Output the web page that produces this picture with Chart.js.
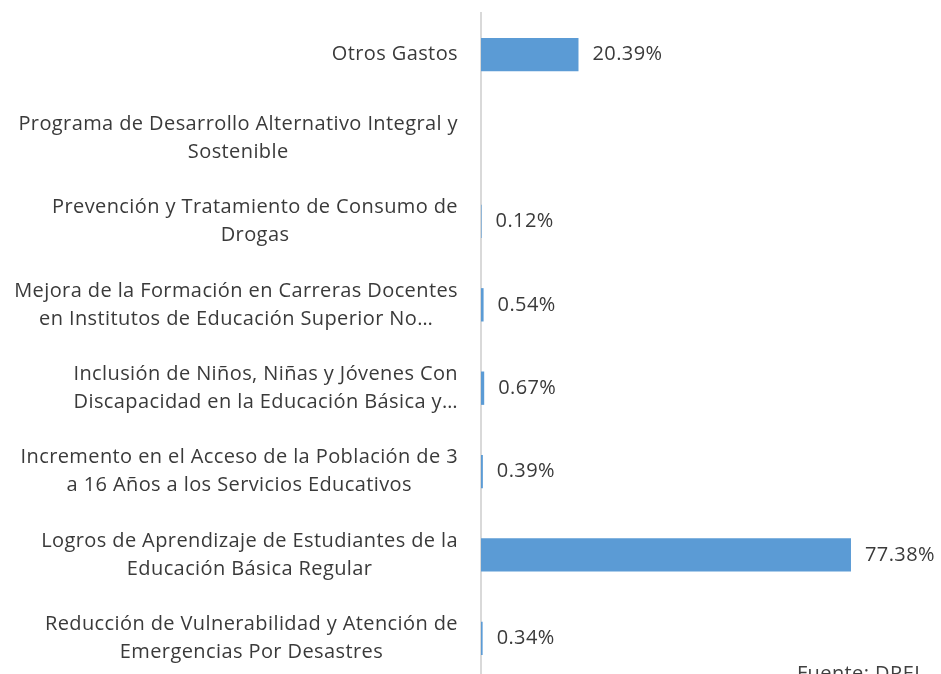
<!DOCTYPE html>
<html>
<head>
<meta charset="utf-8">
<script src="https://cdn.jsdelivr.net/npm/chart.js@4.4.1/dist/chart.umd.min.js"></script>
<style>
    html, body { margin: 0; padding: 0; background: #fff; overflow: hidden; }
    #wrap { position: relative; width: 941px; height: 690px; }
    #source { position: absolute; right: 16px; top: 659px; font: 20px "Open Sans", sans-serif; letter-spacing: 0.4px; color: #404040; }
</style>
</head>
<body>
<div id="wrap">
    <canvas id="programs"></canvas>
    <div id="source">Fuente: DREL</div>
</div>
<script>
const categories = [
    ['Otros Gastos'],
    ['Programa de Desarrollo Alternativo Integral y', 'Sostenible'],
    ['Prevención y Tratamiento de Consumo de', 'Drogas'],
    ['Mejora de la Formación en Carreras Docentes', 'en Institutos de Educación Superior No…'],
    ['Inclusión de Niños, Niñas y Jóvenes Con', 'Discapacidad en la Educación Básica y…'],
    ['Incremento en el Acceso de la Población de 3', 'a 16 Años a los Servicios Educativos'],
    ['Logros de Aprendizaje de Estudiantes de la', 'Educación Básica Regular'],
    ['Reducción de Vulnerabilidad y Atención de', 'Emergencias Por Desastres']
];
const shares = [20.39, null, 0.12, 0.54, 0.67, 0.39, 77.38, 0.34];

const textColor = '#3a3a3a';
const labelFont = '20px "Open Sans", sans-serif';
const spacing = '0.4px';

// Excel-style category labels: each block right aligned, its lines centred
const categoryLabels = {
    id: 'categoryLabels',
    afterDraw(chart) {
        const ctx = chart.ctx;
        const yScale = chart.scales.y;
        const rightEdge = chart.chartArea.left - 23;
        const lineHeight = 28;
        ctx.save();
        ctx.font = labelFont;
        ctx.letterSpacing = spacing;
        ctx.fillStyle = textColor;
        ctx.textBaseline = 'middle';
        ctx.textAlign = 'center';
        categories.forEach((lines, i) => {
            const widest = Math.max(...lines.map(l => ctx.measureText(l).width));
            const cx = rightEdge - widest / 2;
            const cy = yScale.getPixelForTick(i);
            const top = cy - (lines.length - 1) * lineHeight / 2;
            lines.forEach((line, j) => ctx.fillText(line, cx, top + j * lineHeight));
        });
        ctx.restore();
    }
};

const valueLabels = {
    id: 'valueLabels',
    afterDatasetsDraw(chart) {
        const ctx = chart.ctx;
        const meta = chart.getDatasetMeta(0);
        ctx.save();
        ctx.font = labelFont;
        ctx.letterSpacing = spacing;
        ctx.fillStyle = textColor;
        ctx.textBaseline = 'middle';
        ctx.textAlign = 'left';
        meta.data.forEach((bar, i) => {
            if (shares[i] === null) return;
            ctx.fillText(shares[i].toFixed(2) + '%', bar.x + 14, bar.y);
        });
        ctx.restore();
    }
};

new Chart(document.getElementById('programs').getContext('2d'), {
    type: 'bar',
    data: {
        labels: categories.map(c => c.join(' ')),
        datasets: [{
            data: shares,
            backgroundColor: '#5B9BD5',
            borderWidth: 0,
            categoryPercentage: 0.4,
            barPercentage: 1
        }]
    },
    options: {
        indexAxis: 'y',
        responsive: true,
        maintainAspectRatio: false,
        animation: false,
        layout: { padding: { top: 13, right: 1, bottom: 10, left: 0 } },
        plugins: { legend: { display: false }, tooltip: { enabled: false } },
        scales: {
            x: {
                display: false,
                min: 0,
                max: 96
            },
            y: {
                z: 1,
                grid: { display: false },
                border: { display: true, color: '#d9d9d9', width: 2 },
                ticks: { display: false },
                afterFit(scale) { scale.width = 481; }
            }
        }
    },
    plugins: [categoryLabels, valueLabels]
});
</script>
</body>
</html>
